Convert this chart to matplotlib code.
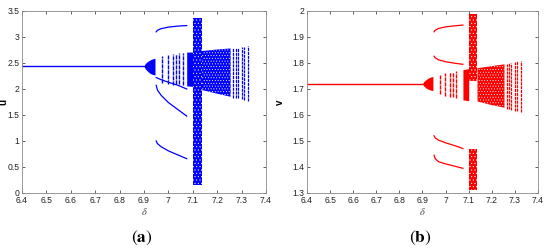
import matplotlib
matplotlib.use('Agg')
import matplotlib.pyplot as plt
import numpy as np

plt.rcParams['font.family'] = ['Liberation Sans', 'DejaVu Sans']
plt.rcParams['mathtext.fontset'] = 'stix'
plt.rcParams['hatch.linewidth'] = 0.35

# ---- panel (a): u ----
u_fixed_delta = [6.4, 6.9]
u_fixed = [2.44, 2.44]

u_lobe_delta = [6.9, 6.905, 6.915, 6.925, 6.935, 6.945]
u_lobe_top = [2.44, 2.49, 2.53, 2.56, 2.58, 2.59]
u_lobe_bot = [2.44, 2.39, 2.34, 2.30, 2.28, 2.27]

u_branch_delta = [6.95, 6.955, 6.97, 7.0, 7.04, 7.075]
u_branch_1 = [3.10, 3.13, 3.16, 3.19, 3.21, 3.22]
u_branch_2 = [2.22, 2.21, 2.18, 2.13, 2.07, 2.00]
u_branch_3 = [2.07, 1.98, 1.88, 1.74, 1.60, 1.48]
u_branch_4 = [1.00, 0.95, 0.89, 0.81, 0.73, 0.66]

u_strip_delta = [6.975, 6.998, 7.018, 7.03, 7.045, 7.06]
u_strip_lo = [2.12, 2.10, 2.08, 2.10, 2.10, 2.08]
u_strip_hi = [2.64, 2.66, 2.68, 2.68, 2.69, 2.70]

u_block_delta = [7.075, 7.1]
u_block_lo = [2.06, 2.05]
u_block_hi = [2.71, 2.71]

u_col_delta = [7.1, 7.137]
u_col_lo = [0.15, 0.15]
u_col_hi = [3.37, 3.37]

u_fan_delta = [7.137, 7.2, 7.255]
u_fan_lo = [1.98, 1.91, 1.85]
u_fan_hi = [2.73, 2.76, 2.78]

u_tail_delta = [7.265, 7.275, 7.285, 7.30, 7.31, 7.328]
u_tail_lo = [1.83, 1.82, 1.82, 1.80, 1.79, 1.77]
u_tail_hi = [2.78, 2.79, 2.79, 2.80, 2.81, 2.82]

# ---- panel (b): v ----
v_fixed_delta = [6.4, 6.9]
v_fixed = [1.72, 1.72]

v_lobe_delta = [6.9, 6.905, 6.915, 6.925, 6.935, 6.945]
v_lobe_top = [1.72, 1.728, 1.736, 1.742, 1.746, 1.748]
v_lobe_bot = [1.72, 1.712, 1.704, 1.699, 1.696, 1.694]

v_branch_delta = [6.95, 6.955, 6.97, 7.0, 7.04, 7.075]
v_branch_1 = [1.920, 1.926, 1.933, 1.939, 1.943, 1.946]
v_branch_2 = [1.826, 1.820, 1.812, 1.805, 1.799, 1.795]
v_branch_3 = [1.520, 1.512, 1.503, 1.493, 1.482, 1.471]
v_branch_4 = [1.445, 1.432, 1.420, 1.412, 1.403, 1.395]

v_strip_delta = [6.975, 6.998, 7.018, 7.03, 7.045]
v_strip_lo = [1.68, 1.675, 1.67, 1.67, 1.665]
v_strip_hi = [1.755, 1.76, 1.765, 1.765, 1.768]

v_block_delta = [7.075, 7.1]
v_block_lo = [1.658, 1.655]
v_block_hi = [1.775, 1.778]

v_col_delta = [7.1, 7.138]
v_col_top_lo = [1.73, 1.73]
v_col_top_hi = [1.99, 1.99]
v_col_bot_lo = [1.31, 1.31]
v_col_bot_hi = [1.47, 1.47]

v_fan_delta = [7.138, 7.2, 7.255]
v_fan_lo = [1.652, 1.638, 1.628]
v_fan_hi = [1.780, 1.788, 1.795]

v_tail_delta = [7.265, 7.275, 7.285, 7.30, 7.31, 7.328]
v_tail_lo = [1.624, 1.622, 1.620, 1.617, 1.615, 1.611]
v_tail_hi = [1.797, 1.799, 1.801, 1.804, 1.806, 1.809]


def style_axes(ax, yticks, yticklabels, ylabel):
    ax.set_xlim(6.4, 7.4)
    ax.set_xticks(np.arange(6.4, 7.41, 0.1))
    ax.set_xticklabels(['6.4', '6.5', '6.6', '6.7', '6.8', '6.9', '7',
                        '7.1', '7.2', '7.3', '7.4'])
    ax.set_yticks(yticks)
    ax.set_yticklabels(yticklabels)
    ax.tick_params(direction='in', length=2.5, width=0.5, labelsize=6.2,
                   top=True, right=True, colors='#222222', pad=2)
    for s in ax.spines.values():
        s.set_color('#888888')
        s.set_linewidth(0.6)
    ax.set_xlabel(r'$\delta$', fontsize=7.5, labelpad=1, color='#444444')
    ax.set_ylabel(ylabel, fontsize=7, fontweight='bold', rotation=90)


def speckle(ax, d, lo, hi, c, hatch='......'):
    # dense point cloud look: solid colour with fine white dots
    ax.fill_between(d, lo, hi, facecolor=c, edgecolor='white', hatch=hatch, lw=0)


def draw_panel(ax, c, fixed_d, fixed, lobe_d, lobe_top, lobe_bot,
               branch_d, branches, strip_d, strip_lo, strip_hi,
               block_d, block_lo, block_hi, fan_d, fan_lo, fan_hi,
               tail_d, tail_lo, tail_hi):
    ax.plot(fixed_d, fixed, color=c, lw=1.0)
    ax.fill_between(lobe_d, lobe_bot, lobe_top, color=c, lw=0)
    for b in branches:
        ax.plot(branch_d, b, color=c, lw=0.9)
    ax.vlines(strip_d, strip_lo, strip_hi, color=c, lw=1.0, linestyles=(0, (3, 0.6)))
    ax.fill_between(block_d, block_lo, block_hi, color=c, lw=0)
    speckle(ax, fan_d, fan_lo, fan_hi, c)
    ax.vlines(tail_d, tail_lo, tail_hi, color=c, lw=0.9, linestyles=(0, (2.5, 0.6)))


fig = plt.figure(figsize=(5.5, 2.52), dpi=100)

ax1 = fig.add_axes([22 / 550, 1 - 193 / 252, 244 / 550, 182 / 252])
draw_panel(ax1, 'blue', u_fixed_delta, u_fixed, u_lobe_delta, u_lobe_top, u_lobe_bot,
           u_branch_delta, [u_branch_1, u_branch_2, u_branch_3, u_branch_4],
           u_strip_delta, u_strip_lo, u_strip_hi,
           u_block_delta, u_block_lo, u_block_hi,
           u_fan_delta, u_fan_lo, u_fan_hi,
           u_tail_delta, u_tail_lo, u_tail_hi)
speckle(ax1, u_col_delta, u_col_lo, u_col_hi, 'blue', '.....')
ax1.set_ylim(0, 3.5)
style_axes(ax1, [0, 0.5, 1, 1.5, 2, 2.5, 3, 3.5],
           ['0', '0.5', '1', '1.5', '2', '2.5', '3', '3.5'], 'u')
ax1.yaxis.set_label_coords(-0.055, 0.5)

ax2 = fig.add_axes([307 / 550, 1 - 193 / 252, 231 / 550, 182 / 252])
draw_panel(ax2, 'red', v_fixed_delta, v_fixed, v_lobe_delta, v_lobe_top, v_lobe_bot,
           v_branch_delta, [v_branch_1, v_branch_2, v_branch_3, v_branch_4],
           v_strip_delta, v_strip_lo, v_strip_hi,
           v_block_delta, v_block_lo, v_block_hi,
           v_fan_delta, v_fan_lo, v_fan_hi,
           v_tail_delta, v_tail_lo, v_tail_hi)
speckle(ax2, v_col_delta, v_col_top_lo, v_col_top_hi, 'red', '.....')
speckle(ax2, v_col_delta, v_col_bot_lo, v_col_bot_hi, 'red', '.....')
ax2.set_ylim(1.3, 2.0)
style_axes(ax2, [1.3, 1.4, 1.5, 1.6, 1.7, 1.8, 1.9, 2.0],
           ['1.3', '1.4', '1.5', '1.6', '1.7', '1.8', '1.9', '2'], 'v')
ax2.yaxis.set_label_coords(-0.095, 0.5)

fig.text(142 / 550, 1 - 238 / 252, r'$(\mathbf{a})$', fontsize=12.5, ha='center', va='center')
fig.text(420 / 550, 1 - 238 / 252, r'$(\mathbf{b})$', fontsize=12.5, ha='center', va='center')

fig.savefig('out.png', dpi=100)
